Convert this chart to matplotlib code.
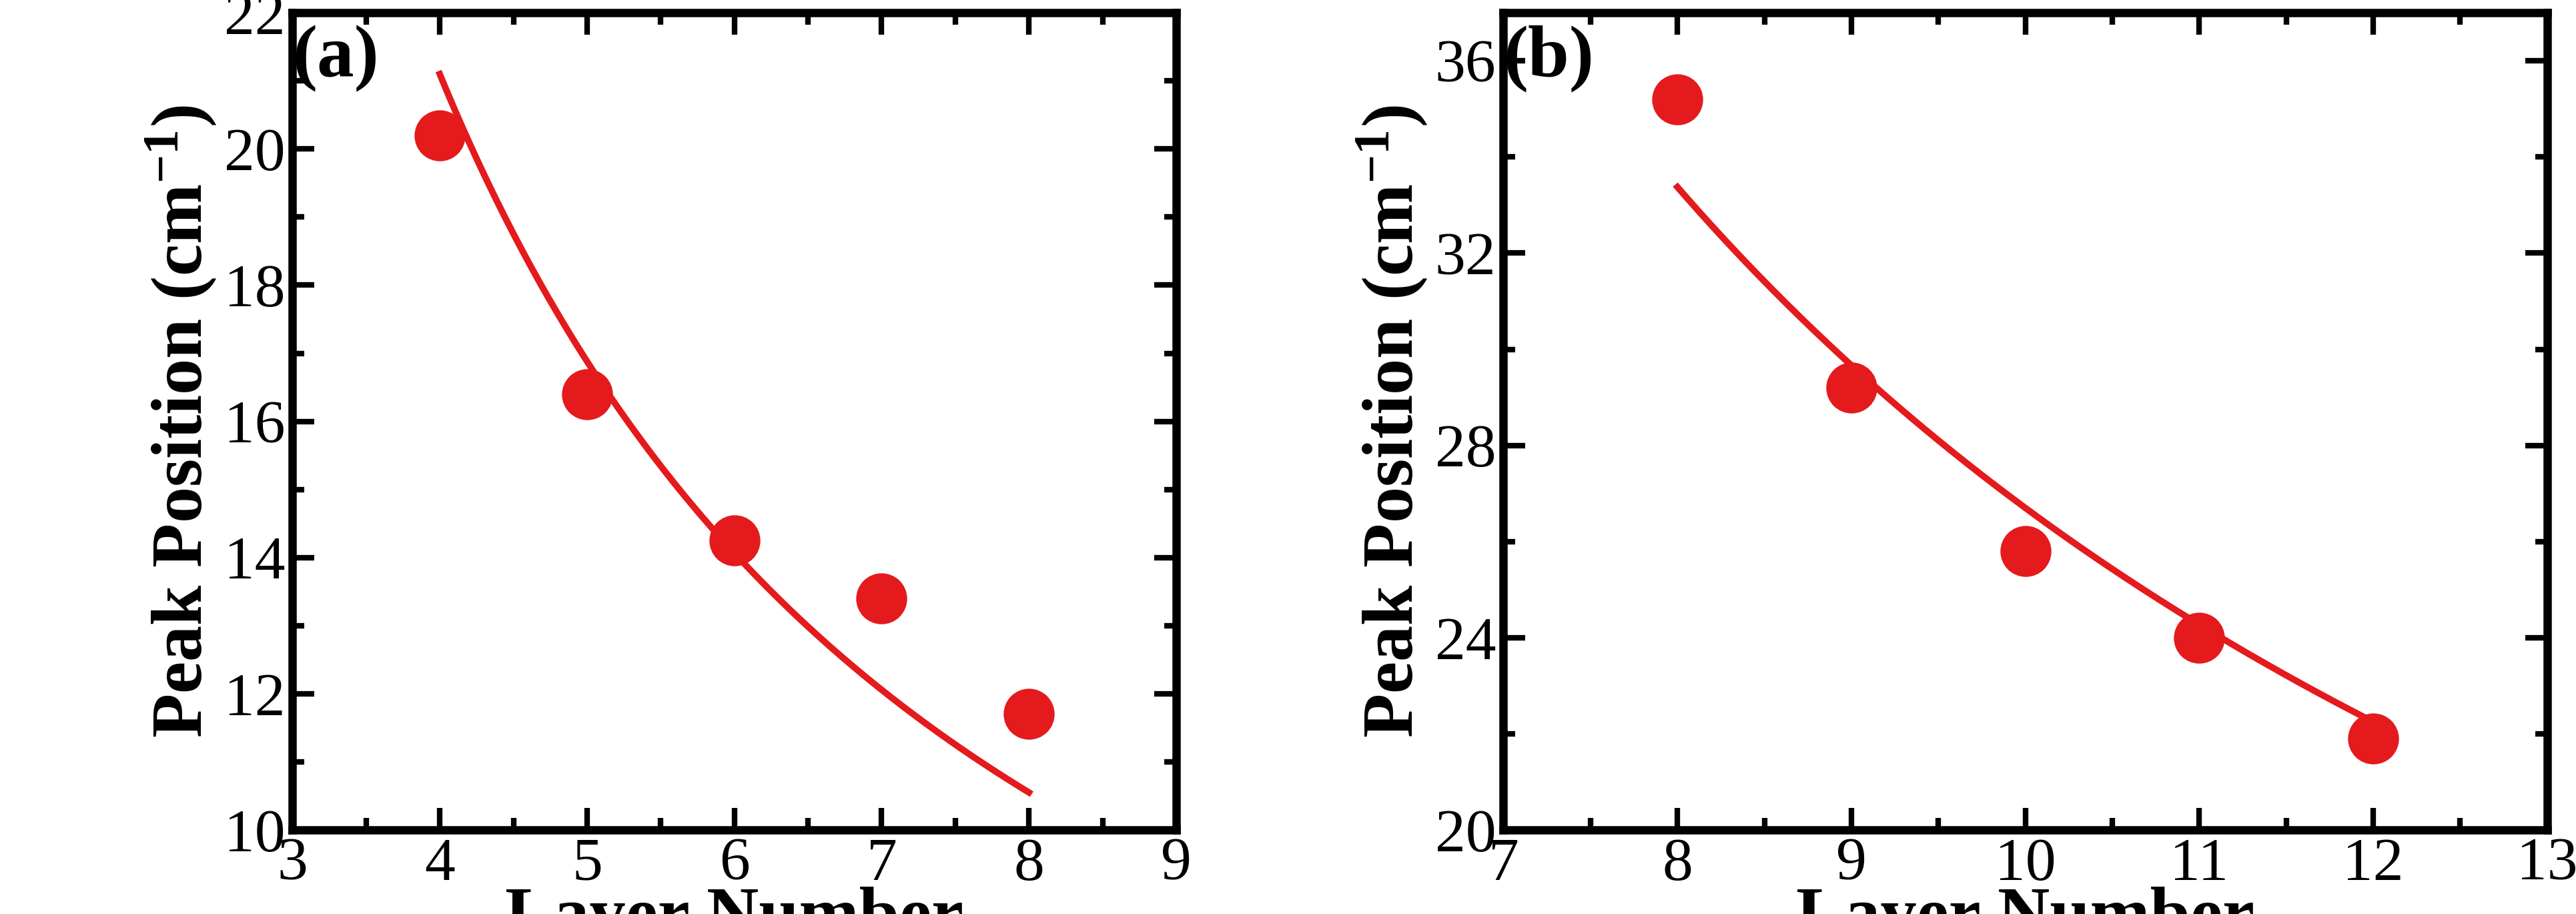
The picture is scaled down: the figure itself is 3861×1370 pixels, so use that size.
import numpy as np
import matplotlib.pyplot as plt
from matplotlib.ticker import MultipleLocator

# panel (a)
layers_a = [4, 5, 6, 7, 8]
peaks_a = [20.2, 16.4, 14.25, 13.4, 11.7]
fit_a = (84.4, 1.0)  # A * n^-p

# panel (b)
layers_b = [8, 9, 10, 11, 12]
peaks_b = [35.2, 29.2, 25.8, 24.0, 21.9]
fit_b = (267.0, 1.0)

plt.rcParams["font.family"] = ["Liberation Serif", "DejaVu Serif"]
plt.rcParams["mathtext.fontset"] = "custom"
plt.rcParams["mathtext.rm"] = "Liberation Serif:bold"
plt.rcParams["mathtext.bf"] = "Liberation Serif:bold"
plt.rcParams["mathtext.it"] = "Liberation Serif:bold"
plt.rcParams["mathtext.default"] = "rm"

fig = plt.figure(figsize=(38.62, 13.70), dpi=100)
ax_a = fig.add_axes([0.1135, 0.092, 0.343, 0.894])
ax_b = fig.add_axes([0.5835, 0.092, 0.405, 0.894])

red = "#e41a1c"


def draw(ax, x, y, fit, xlim, ylim, xmaj, ymaj, ymin, tag):
    xs = np.linspace(x[0], x[-1], 200)
    ax.plot(xs, fit[0] * xs ** (-fit[1]), color=red, lw=7, zorder=2)
    ax.plot(x, y, "o", color=red, ms=54, zorder=3, clip_on=False)
    ax.set_xlim(*xlim)
    ax.set_ylim(*ylim)
    ax.xaxis.set_major_locator(MultipleLocator(xmaj))
    ax.xaxis.set_minor_locator(MultipleLocator(xmaj / 2))
    ax.yaxis.set_major_locator(MultipleLocator(ymaj))
    ax.yaxis.set_minor_locator(MultipleLocator(ymin))
    ax.tick_params(which="both", direction="in", top=True, right=True,
                   width=6, labelsize=66, pad=8)
    ax.tick_params(which="major", length=24)
    ax.tick_params(which="minor", length=13)
    for s in ax.spines.values():
        s.set_linewidth(9)
    ax.set_xlabel("Layer Number", fontsize=78, fontweight="bold", labelpad=-6)
    ax.set_ylabel("Peak Position (cm$^{-1}$)", fontsize=78,
                  fontweight="bold", labelpad=6)
    ax.text(0.0, 0.985, tag, transform=ax.transAxes, fontsize=80,
            fontweight="bold", va="top", ha="left")


draw(ax_a, layers_a, peaks_a, fit_a, (3, 9), (10, 22), 1, 2, 1, "(a)")
draw(ax_b, layers_b, peaks_b, fit_b, (7, 13), (20, 37), 1, 4, 2, "(b)")

fig.savefig("out.png", dpi=100)
